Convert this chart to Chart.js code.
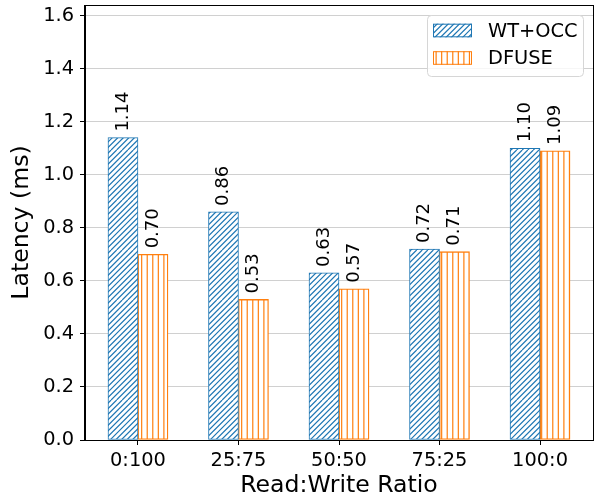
<!DOCTYPE html>
<html><head><meta charset="utf-8">
<script src="https://cdn.jsdelivr.net/npm/chart.js@4/dist/chart.umd.min.js"></script>
<style>html,body{margin:0;padding:0;background:#fff}canvas{display:block}</style>
</head><body>
<canvas id="c" width="613" height="500"></canvas>
<script>
const categories = ['0:100', '25:75', '50:50', '75:25', '100:0'];
const wtOcc = [1.14, 0.86, 0.63, 0.72, 1.10];
const dfuse = [0.70, 0.53, 0.57, 0.71, 1.09];
const yTicks = [0.0, 0.2, 0.4, 0.6, 0.8, 1.0, 1.2, 1.4, 1.6];
const seriesNames = ['WT+OCC', 'DFUSE'];
const xAxisTitle = 'Read:Write Ratio';
const yAxisTitle = 'Latency (ms)';

const FONT = 'DejaVu Sans';
const BLUE = '#1f77b4';
const ORANGE = '#ff7f0e';

function hatch(color, kind) {
  const S = 50, n = 9, s = S / n;
  const c = document.createElement('canvas');
  c.width = S; c.height = S;
  const g = c.getContext('2d');
  g.fillStyle = '#fff';
  g.fillRect(0, 0, S, S);
  g.strokeStyle = color;
  g.lineWidth = 1.2;
  g.beginPath();
  if (kind === 'diag') {
    for (let k = -n; k <= 2 * n; k++) { g.moveTo(k * s, S); g.lineTo(k * s + S, 0); }
  } else {
    for (let k = 0; k < n; k++) { const x = k * s + s / 2; g.moveTo(x, 0); g.lineTo(x, S); }
  }
  g.stroke();
  return g.createPattern(c, 'repeat');
}
const blueHatch = hatch(BLUE, 'diag');
const orangeHatch = hatch(ORANGE, 'vert');

const valueLabels = {
  id: 'valueLabels',
  afterDatasetsDraw(chart) {
    const ctx = chart.ctx;
    ctx.save();
    ctx.font = '18px "' + FONT + '"';
    ctx.fillStyle = '#000';
    ctx.textAlign = 'left';
    ctx.textBaseline = 'middle';
    chart.data.datasets.forEach((ds, i) => {
      chart.getDatasetMeta(i).data.forEach((bar, j) => {
        const v = ds.data[j].y;
        ctx.save();
        ctx.translate(bar.x, bar.y - 6);
        ctx.rotate(-Math.PI / 2);
        ctx.fillText(v.toFixed(2), 0, 0);
        ctx.restore();
      });
    });
    ctx.restore();
  }
};

const frameAndLegend = {
  id: 'frameAndLegend',
  afterDraw(chart) {
    const ctx = chart.ctx;
    const a = chart.chartArea;
    ctx.save();
    // frame
    ctx.strokeStyle = '#000';
    ctx.lineWidth = 1;
    ctx.strokeRect(Math.round(a.left) - 0.5, Math.round(a.top) + 0.5, Math.round(a.right - a.left) + 1, Math.round(a.bottom - a.top));
    // legend box
    const lx = 427.5, ly = 15.5, lw = 156, lh = 61, r = 4;
    ctx.beginPath();
    ctx.moveTo(lx + r, ly);
    ctx.lineTo(lx + lw - r, ly); ctx.quadraticCurveTo(lx + lw, ly, lx + lw, ly + r);
    ctx.lineTo(lx + lw, ly + lh - r); ctx.quadraticCurveTo(lx + lw, ly + lh, lx + lw - r, ly + lh);
    ctx.lineTo(lx + r, ly + lh); ctx.quadraticCurveTo(lx, ly + lh, lx, ly + lh - r);
    ctx.lineTo(lx, ly + r); ctx.quadraticCurveTo(lx, ly, lx + r, ly);
    ctx.closePath();
    ctx.fillStyle = 'rgba(255,255,255,0.8)';
    ctx.fill();
    ctx.strokeStyle = '#d6d6d6';
    ctx.stroke();
    const items = [
      { name: seriesNames[0], fill: blueHatch, edge: BLUE, cy: 30.5 },
      { name: seriesNames[1], fill: orangeHatch, edge: ORANGE, cy: 58 }
    ];
    ctx.font = '19.4px "' + FONT + '"';
    ctx.textAlign = 'left';
    ctx.textBaseline = 'middle';
    items.forEach(it => {
      const px = 433, pw = 39, ph = 13.6, py = it.cy - ph / 2;
      ctx.fillStyle = it.fill;
      ctx.fillRect(px, py, pw, ph);
      ctx.strokeStyle = it.edge;
      ctx.lineWidth = 1;
      ctx.strokeRect(px + 0.5, py + 0.5, pw - 1, ph - 1);
      ctx.fillStyle = '#000';
      ctx.fillText(it.name, 488, it.cy + 1);
    });
    ctx.restore();
  }
};

new Chart(document.getElementById('c'), {
  type: 'bar',
  data: {
    datasets: [
      {
        label: seriesNames[0],
        data: wtOcc.map((v, i) => ({ x: i, y: v })),
        backgroundColor: blueHatch,
        borderColor: BLUE,
        borderWidth: 1,
        borderSkipped: false,
        barThickness: 30
      },
      {
        label: seriesNames[1],
        data: dfuse.map((v, i) => ({ x: i, y: v })),
        backgroundColor: orangeHatch,
        borderColor: ORANGE,
        borderWidth: 1.3,
        borderSkipped: false,
        barThickness: 30
      }
    ]
  },
  options: {
    responsive: false,
    animation: false,
    devicePixelRatio: 1,
    layout: { padding: { top: 5, right: 20, left: 0, bottom: 0 } },
    plugins: { legend: { display: false }, tooltip: { enabled: false } },
    scales: {
      x: {
        type: 'linear',
        min: -0.527,
        max: 4.527,
        offset: false,
        afterBuildTicks(s) { s.ticks = categories.map((_, i) => ({ value: i })); },
        afterFit(s) { s.height = 60; s.paddingLeft = 0; s.paddingRight = 0; },
        ticks: {
          callback: (v) => categories[v],
          font: { family: FONT, size: 19.4 },
          color: '#000',
          padding: 4,
          maxRotation: 0,
          autoSkip: false
        },
        grid: { offset: false, drawOnChartArea: false, tickColor: '#000', tickLength: 5, tickWidth: 1 },
        border: { color: '#000', width: 1 },
        title: { display: true, text: xAxisTitle, font: { family: FONT, size: 23.6 }, color: '#000', padding: { top: 0, bottom: 0 } }
      },
      y: {
        min: 0,
        max: 1.64,
        afterBuildTicks(s) { s.ticks = yTicks.map(v => ({ value: v })); },
        afterFit(s) { s.width = 85; s.paddingTop = 0; s.paddingBottom = 0; },
        ticks: {
          callback: (v) => Number(v).toFixed(1),
          font: { family: FONT, size: 19.4 },
          color: '#000',
          padding: 6
        },
        grid: { color: '#d0d0d0', tickColor: '#000', tickLength: 5, lineWidth: 1 },
        border: { color: '#000', width: 1 },
        title: { display: true, text: yAxisTitle, font: { family: FONT, size: 23.6 }, color: '#000', padding: { top: 8, bottom: 0 } }
      }
    }
  },
  plugins: [valueLabels, frameAndLegend]
});
</script>
</body></html>
